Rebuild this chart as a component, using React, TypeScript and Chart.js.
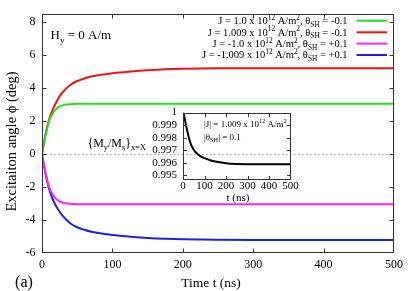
import React, { useEffect, useRef } from "react";
import { Chart, registerables } from "chart.js";

Chart.register(...registerables);

const SERIF = '"Liberation Serif", "Times New Roman", Times, serif';

// ---------- main plot data ----------
const timeNs = [0, 2, 5, 10, 15, 20, 25, 30, 35, 40, 50, 60, 70, 80, 90, 100, 115, 130, 150, 175, 200, 250, 300, 400, 500];
const phiGreen = [0, 0.5, 1.15, 2.0, 2.45, 2.72, 2.88, 2.96, 3.0, 3.02, 3.04, 3.05, 3.05, 3.05, 3.05, 3.05, 3.05, 3.05, 3.05, 3.05, 3.05, 3.05, 3.05, 3.05, 3.05];
const phiRed = [0, 0.5, 1.17, 2.08, 2.67, 3.12, 3.5, 3.77, 3.99, 4.18, 4.42, 4.57, 4.69, 4.77, 4.83, 4.89, 4.95, 5.01, 5.07, 5.13, 5.16, 5.19, 5.2, 5.2, 5.2];
const phiMagenta = [0, -0.5, -1.15, -2.0, -2.45, -2.72, -2.88, -2.96, -3.0, -3.02, -3.04, -3.05, -3.05, -3.05, -3.05, -3.05, -3.05, -3.05, -3.05, -3.05, -3.05, -3.05, -3.05, -3.05, -3.05];
const phiBlue = [0, -0.5, -1.18, -2.1, -2.72, -3.16, -3.5, -3.78, -4.0, -4.2, -4.44, -4.59, -4.71, -4.79, -4.85, -4.91, -4.97, -5.03, -5.09, -5.14, -5.17, -5.2, -5.21, -5.21, -5.21];

const xTicks = [0, 100, 200, 300, 400, 500];
const yTicks = [-6, -4, -2, 0, 2, 4, 6, 8];

// ---------- inset data ----------
const insetTime = [0, 5, 10, 20, 30, 40, 50, 60, 80, 100, 130, 150, 200, 300, 400, 500];
const insetMy = [1.0, 0.99979, 0.99934, 0.99852, 0.99784, 0.99734, 0.99703, 0.99682, 0.99653, 0.99636, 0.99617, 0.99609, 0.99595, 0.99588, 0.99588, 0.99588];
const insetXTicks = [0, 100, 200, 300, 400, 500];
const insetYTicks = [0.995, 0.996, 0.997, 0.998, 0.999, 1.0];
const insetYTickLabels = ["0.995", "0.996", "0.997", "0.998", "0.999", "1"];

// ---------- texts ----------
type Seg = [string, "" | "sup" | "sub"];
const seriesColors = ["#1ee01e", "#f01414", "#ff22ff", "#1e1ef0"];
const seriesLabels: Seg[][] = [
  [["J = 1.0 x 10", ""], ["12", "sup"], [" A/m", ""], ["2", "sup"], [", θ", ""], ["SH", "sub"], [" = -0.1", ""]],
  [["J = 1.009 x 10", ""], ["12", "sup"], [" A/m", ""], ["2", "sup"], [", θ", ""], ["SH", "sub"], [" = -0.1", ""]],
  [["J = -1.0 x 10", ""], ["12", "sup"], [" A/m", ""], ["2", "sup"], [", θ", ""], ["SH", "sub"], [" = +0.1", ""]],
  [["J = -1.009 x 10", ""], ["12", "sup"], [" A/m", ""], ["2", "sup"], [", θ", ""], ["SH", "sub"], [" = +0.1", ""]],
];
const yTitle: Seg[] = [["Excitaiton angle ϕ (deg)", ""]];
const xTitle: Seg[] = [["Time t (ns)", ""]];
const panelLabel: Seg[] = [["(a)", ""]];
const fieldLabel: Seg[] = [["H", ""], ["y", "sub"], [" = 0 A/m", ""]];
const insetYTitle: Seg[] = [["{M", ""], ["y", "sub"], ["/M", ""], ["s", "sub"], ["}", ""], ["x=X", "sub"]];
const insetXTitle: Seg[] = [["t (ns)", ""]];
const insetNote1: Seg[] = [["|J| = 1.009 x 10", ""], ["12", "sup"], [" A/m", ""], ["2", "sup"]];
const insetNote2: Seg[] = [["|θ", ""], ["SH", "sub"], ["| = 0.1", ""]];

function drawRich(ctx: CanvasRenderingContext2D, segs: Seg[], x: number, y: number, size: number, align: "left" | "right" | "center") {
  const small = size * 0.7;
  const widths = segs.map(([t, m]) => {
    ctx.font = `${m ? small : size}px ${SERIF}`;
    return ctx.measureText(t).width;
  });
  const total = widths.reduce((a, b) => a + b, 0);
  let cx = align === "right" ? x - total : align === "center" ? x - total / 2 : x;
  const base = y + size * 0.33;
  ctx.textAlign = "left";
  ctx.textBaseline = "alphabetic";
  ctx.fillStyle = "#000";
  segs.forEach(([t, m], i) => {
    ctx.font = `${m ? small : size}px ${SERIF}`;
    const dy = m === "sup" ? -size * 0.42 : m === "sub" ? size * 0.25 : 0;
    ctx.fillText(t, cx, base + dy);
    cx += widths[i];
  });
}

function drawFrame(chart: any, xv: number[], yv: number[], len: number) {
  const { ctx, chartArea: a, scales } = chart;
  const L = Math.round(a.left) + 0.5;
  const R = Math.round(a.right) - 0.5;
  const T = Math.round(a.top) + 0.5;
  const B = Math.round(a.bottom) - 0.5;
  ctx.save();
  ctx.strokeStyle = "#333";
  ctx.lineWidth = 1;
  ctx.strokeRect(L, T, R - L, B - T);
  ctx.beginPath();
  xv.forEach((v) => {
    const px = Math.round(scales.x.getPixelForValue(v)) + 0.5;
    if (px <= L + 1 || px >= R - 1) return;
    ctx.moveTo(px, B);
    ctx.lineTo(px, B - len);
    ctx.moveTo(px, T);
    ctx.lineTo(px, T + len);
  });
  yv.forEach((v) => {
    const py = Math.round(scales.y.getPixelForValue(v)) + 0.5;
    if (py <= T + 1 || py >= B - 1) return;
    ctx.moveTo(L, py);
    ctx.lineTo(L + len, py);
    ctx.moveTo(R, py);
    ctx.lineTo(R - len, py);
  });
  ctx.stroke();
  ctx.restore();
}

const mainDecor = {
  id: "mainDecor",
  beforeDatasetsDraw(chart: any) {
    const { ctx, chartArea: a, scales } = chart;
    const y0 = Math.round(scales.y.getPixelForValue(0)) + 0.5;
    ctx.save();
    ctx.strokeStyle = "#a0a0a0";
    ctx.lineWidth = 1;
    ctx.setLineDash([1.5, 2.5]);
    ctx.beginPath();
    ctx.moveTo(a.left, y0);
    ctx.lineTo(a.right, y0);
    ctx.stroke();
    ctx.restore();
  },
  afterDraw(chart: any) {
    const { ctx } = chart;
    drawFrame(chart, xTicks, yTicks, 4);
    ctx.save();
    // legend
    const rows = [20.7, 32.3, 43.6, 55];
    seriesLabels.forEach((segs, i) => {
      drawRich(ctx, segs, 347.5, rows[i], 10.5, "right");
      ctx.strokeStyle = seriesColors[i];
      ctx.lineWidth = 2;
      ctx.beginPath();
      ctx.moveTo(356.5, rows[i]);
      ctx.lineTo(387, rows[i]);
      ctx.stroke();
    });
    // titles & annotations
    ctx.save();
    ctx.translate(11.5, 141.5);
    ctx.rotate(-Math.PI / 2);
    drawRich(ctx, yTitle, 0, 0, 14.5, "center");
    ctx.restore();
    drawRich(ctx, xTitle, 211, 283, 13.5, "center");
    drawRich(ctx, panelLabel, 24, 281.5, 16, "center");
    drawRich(ctx, fieldLabel, 50.5, 35, 13, "left");
    drawRich(ctx, insetYTitle, 146, 143, 12, "right");
    ctx.restore();
  },
};

const insetDecor = {
  id: "insetDecor",
  afterDraw(chart: any) {
    const { ctx } = chart;
    drawFrame(chart, insetXTicks, insetYTicks, 3.5);
    ctx.save();
    drawRich(ctx, insetNote1, 64, 24.3, 9, "left");
    drawRich(ctx, insetNote2, 64, 36.7, 9, "left");
    drawRich(ctx, insetXTitle, 98, 97.5, 11, "center");
    ctx.restore();
  },
};

export default function App() {
  const mainRef = useRef<HTMLCanvasElement | null>(null);
  const insetRef = useRef<HTMLCanvasElement | null>(null);

  useEffect(() => {
    Chart.defaults.font.family = SERIF;
    Chart.defaults.color = "#000";
    const series = [phiGreen, phiRed, phiMagenta, phiBlue];
    const main = new Chart(mainRef.current as HTMLCanvasElement, {
      type: "line",
      data: {
        datasets: series.map((arr, i) => ({
          label: seriesLabels[i].map((s) => s[0]).join(""),
          data: timeNs.map((t, k) => ({ x: t, y: arr[k] })),
          borderColor: seriesColors[i],
          backgroundColor: seriesColors[i],
          borderWidth: 2,
          pointRadius: 0,
          fill: false,
          cubicInterpolationMode: "monotone" as const,
        })),
      },
      options: {
        animation: false,
        responsive: false,
        devicePixelRatio: 1,
        layout: { padding: { left: 0, top: 13, right: 21, bottom: 0 } },
        plugins: { legend: { display: false }, tooltip: { enabled: false } },
        scales: {
          x: {
            type: "linear",
            min: 0,
            max: 500,
            afterBuildTicks: (s: any) => {
              s.ticks = xTicks.map((v) => ({ value: v }));
            },
            afterFit: (s: any) => {
              s.height = 38;
            },
            grid: { display: false, drawTicks: false },
            border: { display: false },
            ticks: {
              font: { size: 12, family: SERIF },
              color: "#000",
              padding: 5,
              maxRotation: 0,
              autoSkip: false,
              callback: (v: any) => String(v),
            },
          },
          y: {
            type: "linear",
            min: -6,
            max: 8.5,
            afterBuildTicks: (s: any) => {
              s.ticks = yTicks.map((v) => ({ value: v }));
            },
            afterFit: (s: any) => {
              s.width = 42;
            },
            grid: { display: false, drawTicks: false },
            border: { display: false },
            ticks: {
              font: { size: 12, family: SERIF },
              color: "#000",
              padding: 6.5,
              autoSkip: false,
              callback: (v: any) => String(v),
            },
          },
        },
      },
      plugins: [mainDecor],
    });

    const inset = new Chart(insetRef.current as HTMLCanvasElement, {
      type: "line",
      data: {
        datasets: [
          {
            label: "My/Ms",
            data: insetTime.map((t, k) => ({ x: t, y: insetMy[k] })),
            borderColor: "#000",
            borderWidth: 2,
            pointRadius: 0,
            fill: false,
            cubicInterpolationMode: "monotone" as const,
          },
        ],
      },
      options: {
        animation: false,
        responsive: false,
        devicePixelRatio: 1,
        layout: { padding: { left: 0, top: 10, right: 9.5, bottom: 0 } },
        plugins: { legend: { display: false }, tooltip: { enabled: false } },
        scales: {
          x: {
            type: "linear",
            min: 0,
            max: 500,
            afterBuildTicks: (s: any) => {
              s.ticks = insetXTicks.map((v) => ({ value: v }));
            },
            afterFit: (s: any) => {
              s.height = 30;
            },
            grid: { display: false, drawTicks: false },
            border: { display: false },
            ticks: {
              font: { size: 11, family: SERIF, lineHeight: 1 },
              color: "#000",
              padding: 1,
              maxRotation: 0,
              autoSkip: false,
              callback: (v: any) => String(v),
            },
          },
          y: {
            type: "linear",
            min: 0.99462,
            max: 1.0,
            afterBuildTicks: (s: any) => {
              s.ticks = insetYTicks.map((v) => ({ value: v }));
            },
            afterFit: (s: any) => {
              s.width = 43;
            },
            grid: { display: false, drawTicks: false },
            border: { display: false },
            ticks: {
              font: { size: 11, family: SERIF },
              color: "#000",
              padding: 6,
              autoSkip: false,
              callback: (_v: any, i: number) => insetYTickLabels[i],
            },
          },
        },
      },
      plugins: [insetDecor],
    });

    return () => {
      main.destroy();
      inset.destroy();
    };
  }, []);

  return (
    <div style={{ position: "absolute", left: 0, top: 0, width: 415, height: 291, background: "#fff" }}>
      <canvas ref={mainRef} width={415} height={291} style={{ position: "absolute", left: 0, top: 0, width: 415, height: 291 }} />
      <canvas ref={insetRef} width={160} height={110} style={{ position: "absolute", left: 140, top: 100, width: 160, height: 110 }} />
    </div>
  );
}
